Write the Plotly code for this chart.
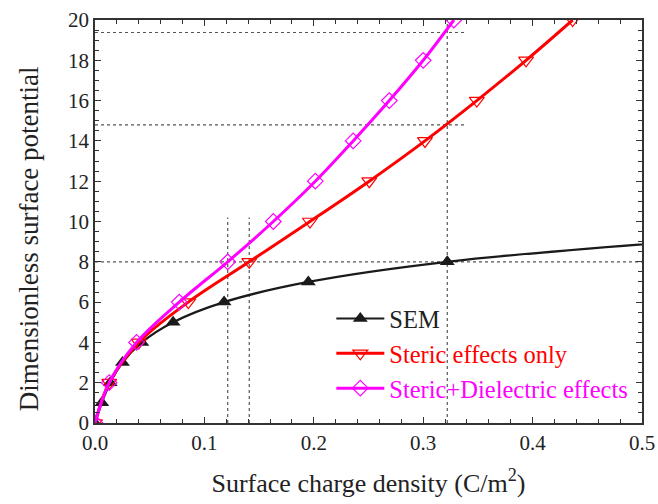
import plotly.graph_objects as go

# ---- data ----
sem_x = [0.0, 0.0062, 0.0139, 0.0251, 0.0428, 0.0714, 0.118, 0.195, 0.322, 0.531]
sem_y = [0, 1, 2, 3, 4, 5, 6, 7, 8, 9]

steric_x = [0.0, 0.013, 0.040, 0.0853, 0.141, 0.1965, 0.2507, 0.3016, 0.349, 0.394, 0.4366]
steric_y = [0, 2, 4, 6, 8, 10, 12, 14, 16, 18, 20]

diel_x = [0.0, 0.013, 0.038, 0.077, 0.1213, 0.163, 0.2014, 0.236, 0.269, 0.300, 0.328]
diel_y = [0, 2, 4, 6, 8, 10, 12, 14, 16, 18, 20]

# dotted guide lines: (x0, y0, x1, y1)
guide_x0 = [0.0, 0.0, 0.0, 0.1213, 0.141, 0.322]
guide_y0 = [8.0, 14.8, 19.38, 0.0, 0.0, 0.0]
guide_x1 = [0.5, 0.339, 0.339, 0.1213, 0.141, 0.322]
guide_y1 = [8.0, 14.8, 19.38, 10.2, 10.2, 20.0]

x_ticks = [0.0, 0.1, 0.2, 0.3, 0.4, 0.5]
y_ticks = [0, 2, 4, 6, 8, 10, 12, 14, 16, 18, 20]

FONT = "Liberation Serif"
AX = "#333333"

fig = go.Figure()

for x0, y0, x1, y1 in zip(guide_x0, guide_y0, guide_x1, guide_y1):
    fig.add_trace(go.Scatter(x=[x0, x1], y=[y0, y1], mode="lines",
                             line=dict(color="#555555", width=1.2, dash="dot"),
                             showlegend=False, hoverinfo="skip"))

fig.add_trace(go.Scatter(x=sem_x, y=sem_y, mode="lines+markers",
                         name="SEM",
                         line=dict(color="#1a1a1a", width=2.2, shape="spline"),
                         marker=dict(symbol="triangle-up", size=13, color="#1a1a1a")))
fig.add_trace(go.Scatter(x=steric_x, y=steric_y, mode="lines+markers",
                         name="<span style='color:#ff0000'>Steric effects only</span>",
                         line=dict(color="#ff0000", width=3, shape="spline"),
                         marker=dict(symbol="triangle-down-open", size=13, color="#ff0000",
                                     line=dict(width=1.2))))
fig.add_trace(go.Scatter(x=diel_x, y=diel_y, mode="lines+markers",
                         name="<span style='color:#ff00ff'>Steric+Dielectric effects</span>",
                         line=dict(color="#ff00ff", width=3, shape="spline"),
                         marker=dict(symbol="diamond-open", size=12, color="#ff00ff",
                                     line=dict(width=1.2))))

axis_common = dict(
    showline=True, linecolor=AX, linewidth=1.5, mirror="allticks",
    ticks="inside", ticklen=6, tickwidth=1.3, tickcolor=AX,
    showgrid=False, zeroline=False, automargin=False,
    tickfont=dict(family=FONT, size=21, color="#222222"),
)

fig.update_xaxes(range=[0, 0.5], tickvals=x_ticks, tickformat=".1f",
                 minor=dict(dtick=0.02, ticks="inside", ticklen=4, tickcolor=AX, tickwidth=1),
                 title=dict(text="Surface charge density (C/m<sup>2</sup>)",
                            font=dict(family=FONT, size=26, color="#222222"), standoff=20),
                 **axis_common)
fig.update_yaxes(range=[0, 20], tickvals=y_ticks,
                 minor=dict(dtick=0.5, ticks="inside", ticklen=4, tickcolor=AX, tickwidth=1),
                 **axis_common)

fig.add_annotation(text="Dimensionless surface potential", textangle=-90,
                   xref="paper", yref="paper", x=-0.119, y=0.458,
                   xanchor="center", yanchor="middle", showarrow=False,
                   font=dict(family=FONT, size=27, color="#222222"))

fig.update_layout(
    width=658, height=504,
    margin=dict(l=95, r=16, t=20, b=81),
    paper_bgcolor="white", plot_bgcolor="white",
    font=dict(family=FONT, color="#222222"),
    legend=dict(x=0.432, y=0.315, xanchor="left", yanchor="top",
                bgcolor="rgba(0,0,0,0)", borderwidth=0,
                font=dict(family=FONT, size=24.5, color="#222222"),
                tracegroupgap=0, itemwidth=48),
    showlegend=True,
)

fig.write_html("out.html")
